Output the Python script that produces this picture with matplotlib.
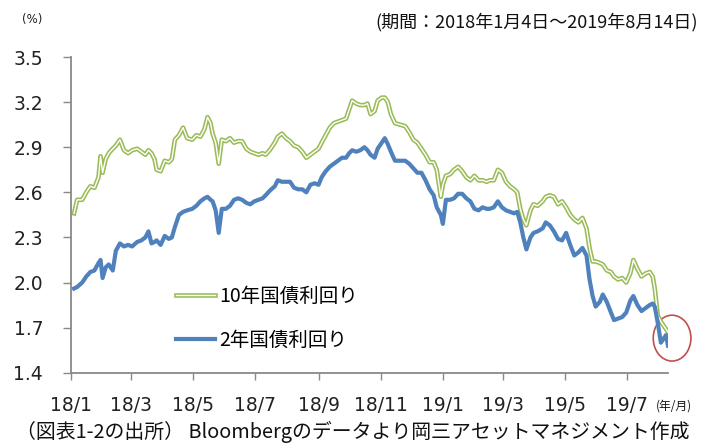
import numpy as np
import pandas as pd
import matplotlib
matplotlib.use("Agg")
import matplotlib.pyplot as plt
import matplotlib.dates as mdates
import matplotlib.patheffects as pe
from matplotlib.patches import Ellipse
from matplotlib.lines import Line2D

plt.rcParams['font.family'] = ['DejaVu Sans', 'Noto Sans CJK JP']

# dates (roughly every 3-5 days)
dates = [
    "2018-01-04", "2018-01-07", "2018-01-12", "2018-01-16", "2018-01-20", "2018-01-24", "2018-01-28",
    "2018-01-30", "2018-02-01", "2018-02-04", "2018-02-07", "2018-02-11", "2018-02-14", "2018-02-18",
    "2018-02-22", "2018-02-26", "2018-03-02", "2018-03-07", "2018-03-11", "2018-03-15", "2018-03-18",
    "2018-03-21", "2018-03-24", "2018-03-26", "2018-03-30", "2018-04-03", "2018-04-07", "2018-04-10",
    "2018-04-13", "2018-04-17", "2018-04-21", "2018-04-25", "2018-04-30", "2018-05-04", "2018-05-08",
    "2018-05-12", "2018-05-15", "2018-05-18", "2018-05-20", "2018-05-23", "2018-05-26", "2018-05-29",
    "2018-06-02", "2018-06-06", "2018-06-10", "2018-06-14", "2018-06-18", "2018-06-22", "2018-06-26",
    "2018-06-30", "2018-07-04", "2018-07-08", "2018-07-11", "2018-07-15", "2018-07-20", "2018-07-23",
    "2018-07-27", "2018-07-31", "2018-08-04", "2018-08-08", "2018-08-12", "2018-08-16", "2018-08-20",
    "2018-08-24", "2018-08-28", "2018-09-01", "2018-09-04", "2018-09-08", "2018-09-12", "2018-09-16",
    "2018-09-20", "2018-09-24", "2018-09-28", "2018-10-01", "2018-10-04", "2018-10-08", "2018-10-12",
    "2018-10-16", "2018-10-19", "2018-10-22", "2018-10-26", "2018-10-29", "2018-11-02", "2018-11-05",
    "2018-11-08", "2018-11-11", "2018-11-15", "2018-11-20", "2018-11-25", "2018-11-29", "2018-12-03",
    "2018-12-07", "2018-12-11", "2018-12-15", "2018-12-19", "2018-12-23", "2018-12-26", "2018-12-30",
    "2019-01-01", "2019-01-04", "2019-01-08", "2019-01-12", "2019-01-16", "2019-01-20", "2019-01-24",
    "2019-01-28", "2019-02-01", "2019-02-05", "2019-02-09", "2019-02-13", "2019-02-16", "2019-02-20",
    "2019-02-24", "2019-02-28", "2019-03-04", "2019-03-08", "2019-03-12", "2019-03-15", "2019-03-18",
    "2019-03-21", "2019-03-24", "2019-03-28", "2019-03-31", "2019-04-04", "2019-04-09", "2019-04-12",
    "2019-04-16", "2019-04-20", "2019-04-24", "2019-04-28", "2019-05-02", "2019-05-06", "2019-05-10",
    "2019-05-14", "2019-05-18", "2019-05-22", "2019-05-25", "2019-05-28", "2019-05-31", "2019-06-04",
    "2019-06-07", "2019-06-11", "2019-06-15", "2019-06-18", "2019-06-22", "2019-06-26", "2019-06-30",
    "2019-07-04", "2019-07-07", "2019-07-11", "2019-07-15", "2019-07-19", "2019-07-23", "2019-07-26",
    "2019-07-28", "2019-07-31", "2019-08-03", "2019-08-06", "2019-08-08", "2019-08-10",
]

# 10年国債利回り (%)
yield_10y = [
    2.46, 2.55, 2.55, 2.60, 2.64, 2.63, 2.70,
    2.84, 2.73, 2.82, 2.86, 2.89, 2.91, 2.95,
    2.88, 2.86, 2.88, 2.89, 2.87, 2.85, 2.88,
    2.86, 2.82, 2.75, 2.74, 2.81, 2.80, 2.82,
    2.95, 2.98, 3.03, 2.96, 2.95, 2.98, 2.97,
    3.02, 3.10, 3.06, 2.99, 2.93, 2.79, 2.95,
    2.94, 2.96, 2.93, 2.94, 2.94, 2.89, 2.87,
    2.86, 2.85, 2.86, 2.85, 2.88, 2.93, 2.97,
    2.99, 2.96, 2.94, 2.91, 2.90, 2.87, 2.83,
    2.85, 2.87, 2.89, 2.93, 2.98, 3.03, 3.06,
    3.07, 3.08, 3.09, 3.15, 3.21, 3.19, 3.18,
    3.18, 3.19, 3.12, 3.14, 3.21, 3.23, 3.23,
    3.20, 3.12, 3.06, 3.05, 3.04, 3.00, 2.95,
    2.93, 2.89, 2.85, 2.80, 2.80, 2.75, 2.57,
    2.65, 2.71, 2.72, 2.75, 2.77, 2.74, 2.70,
    2.68, 2.71, 2.68, 2.68, 2.67, 2.68, 2.68,
    2.75, 2.73, 2.67, 2.64, 2.62, 2.60, 2.49,
    2.42, 2.38, 2.48, 2.52, 2.51, 2.54, 2.57,
    2.58, 2.57, 2.52, 2.54, 2.50, 2.45, 2.42,
    2.40, 2.43, 2.36, 2.23, 2.14, 2.14, 2.13,
    2.12, 2.08, 2.07, 2.04, 2.02, 2.03, 2.00,
    2.06, 2.15, 2.09, 2.04, 2.06, 2.07, 2.04,
    1.96, 1.78, 1.74, 1.71, 1.69, 1.67,
]

# 2年国債利回り (%)
yield_2y = [
    1.96, 1.97, 2.00, 2.04, 2.07, 2.08, 2.13,
    2.15, 2.03, 2.10, 2.12, 2.08, 2.21, 2.26,
    2.24, 2.25, 2.24, 2.27, 2.28, 2.30, 2.34,
    2.26, 2.27, 2.28, 2.25, 2.31, 2.29, 2.30,
    2.37, 2.45, 2.47, 2.48, 2.49, 2.51, 2.54,
    2.56, 2.57, 2.55, 2.54, 2.48, 2.33, 2.49,
    2.49, 2.51, 2.55, 2.56, 2.55, 2.53, 2.52,
    2.54, 2.55, 2.56, 2.58, 2.61, 2.64, 2.68,
    2.67, 2.67, 2.67, 2.63, 2.62, 2.62, 2.60,
    2.65, 2.66, 2.65, 2.70, 2.74, 2.77, 2.79,
    2.81, 2.83, 2.83, 2.86, 2.88, 2.87, 2.88,
    2.90, 2.88, 2.85, 2.83, 2.89, 2.93, 2.96,
    2.92, 2.87, 2.81, 2.81, 2.81, 2.79, 2.76,
    2.73, 2.73, 2.68, 2.62, 2.58, 2.50, 2.45,
    2.39, 2.55, 2.55, 2.56, 2.59, 2.59, 2.56,
    2.54, 2.49, 2.48, 2.50, 2.49, 2.49, 2.50,
    2.54, 2.50, 2.48, 2.47, 2.46, 2.47, 2.40,
    2.30, 2.22, 2.30, 2.33, 2.34, 2.36, 2.40,
    2.38, 2.34, 2.29, 2.28, 2.33, 2.25, 2.18,
    2.20, 2.23, 2.18, 2.02, 1.91, 1.84, 1.87,
    1.92, 1.87, 1.80, 1.75, 1.76, 1.77, 1.80,
    1.88, 1.91, 1.85, 1.81, 1.83, 1.85, 1.86,
    1.84, 1.73, 1.60, 1.63, 1.65, 1.58,
]

tick_dates = ["2018-01-01", "2018-03-01", "2018-05-01", "2018-07-01", "2018-09-01",
              "2018-11-01", "2019-01-01", "2019-03-01", "2019-05-01", "2019-07-01"]
tick_labels = ["18/1", "18/3", "18/5", "18/7", "18/9", "18/11", "19/1", "19/3", "19/5", "19/7"]
y_ticks = [1.4, 1.7, 2.0, 2.3, 2.6, 2.9, 3.2, 3.5]

x = pd.to_datetime(dates)

green = "#9BBB59"
blue = "#4F81BD"
gray = "#898989"

fig = plt.figure(figsize=(7.05, 4.43), dpi=100)
ax = fig.add_axes([71/705, 1-372.7/443, (668-71)/705, (372.7-57)/443])

# 10年: double line (green outline with white core)
ax.plot(x, yield_10y, color="white", lw=1.0, solid_joinstyle="round",
        path_effects=[pe.Stroke(linewidth=3.3, foreground=green), pe.Normal()])
ax.plot(x, yield_2y, color=blue, lw=3.0, solid_joinstyle="round")

ax.set_xlim(pd.Timestamp("2018-01-01"), pd.Timestamp("2019-08-10"))
ax.set_ylim(1.4, 3.5)
ax.set_yticks(y_ticks)
ax.set_yticklabels(["%.1f" % v for v in y_ticks])
ax.set_xticks(pd.to_datetime(tick_dates))
ax.set_xticklabels(tick_labels)

for s in ["top", "right"]:
    ax.spines[s].set_visible(False)
for s in ["left", "bottom"]:
    ax.spines[s].set_color(gray)
    ax.spines[s].set_linewidth(1.3)
ax.tick_params(axis="y", direction="out", length=6, width=1.0, color=gray,
               pad=14, labelsize=13.5, labelcolor="#222222")
ax.tick_params(axis="x", direction="out", length=5, width=1.0, color=gray,
               pad=12, labelsize=13.5, labelcolor="#222222")

# legend
h10 = Line2D([], [], color="white", lw=1.0,
             path_effects=[pe.Stroke(linewidth=3.3, foreground=green), pe.Normal()])
h2 = Line2D([], [], color=blue, lw=3.0)
ax.legend([h10, h2], ["10年国債利回り", "2年国債利回り"], loc="upper left",
          bbox_to_anchor=(0.176, 0.274), frameon=False,
          handlelength=2.0, handletextpad=0.2, labelspacing=1.15, borderpad=0,
          borderaxespad=0, prop={"family": ["Noto Sans CJK JP"], "size": 14})

# red circle around the latest values
ax.add_patch(Ellipse((mdates.date2num(pd.Timestamp("2019-08-14")), 1.63), 37, 0.305,
                     fill=False, edgecolor="#C0504D", lw=1.2, clip_on=False))

fig.text(22/705, 1-20/443, "(%)", fontsize=8.5, va="center", ha="left", color="#222222")
fig.text(698/705, 1-22/443, "(期間：2018年1月4日～2019年8月14日)", fontsize=13,
         va="center", ha="right", family=["Noto Sans CJK JP"], color="#111111")
fig.text(656/705, 1-406/443, "(年/月)", fontsize=8.5, va="center", ha="left",
         family=["Noto Sans CJK JP"], color="#111111")
fig.text(16/705, 1-432/443, "（図表1-2の出所） Bloombergのデータより岡三アセットマネジメント作成",
         fontsize=14.3, va="center", ha="left", family=["Noto Sans CJK JP"], color="#111111")

fig.savefig("out.png", dpi=100)
